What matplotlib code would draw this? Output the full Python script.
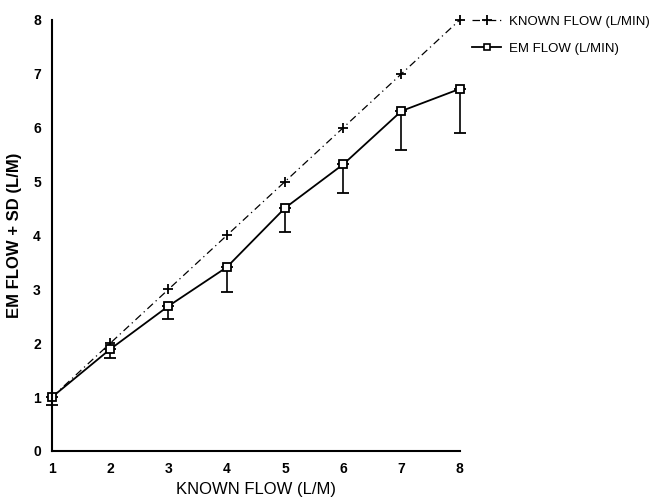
import matplotlib
matplotlib.use("Agg")
import matplotlib.pyplot as plt
from matplotlib.lines import Line2D

known = [1, 2, 3, 4, 5, 6, 7, 8]
known_flow = [1, 2, 3, 4, 5, 6, 7, 8]
em_flow = [1.0, 1.89, 2.69, 3.41, 4.51, 5.32, 6.31, 6.72]
em_sd = [0.15, 0.16, 0.24, 0.46, 0.45, 0.53, 0.73, 0.82]
xticks = [1, 2, 3, 4, 5, 6, 7, 8]
yticks = [0, 1, 2, 3, 4, 5, 6, 7, 8]

plt.rcParams['font.family'] = ['Liberation Sans', 'DejaVu Sans']
fig = plt.figure(figsize=(6.53, 4.99), dpi=100)
ax = fig.add_axes([0.0796, 0.0962, 0.6244, 0.8638])

dash = (0, (6, 3, 1, 3))
l1, = ax.plot(known, known_flow, color='black', lw=0.9, ls=dash,
              marker='+', ms=7, mew=1.3, clip_on=False)
eb = ax.errorbar(known, em_flow, yerr=[em_sd, [0]*len(em_sd)], color='black', lw=1.3,
                 marker='s', ms=5.5, mfc='white', mec='black', mew=1.3,
                 ecolor='black', elinewidth=1.2, capsize=4, capthick=1.2)
for art in [eb[0], *eb[1], *eb[2]]:
    art.set_clip_on(False)

ax.set_xlim(1, 8)
ax.set_ylim(0, 8)
ax.set_xticks(xticks)
ax.set_yticks(yticks)
ax.tick_params(length=0, labelsize=10, pad=8)
for lab in ax.get_xticklabels() + ax.get_yticklabels():
    lab.set_fontweight('bold')
for s in ['top', 'right']:
    ax.spines[s].set_visible(False)
for s in ['left', 'bottom']:
    ax.spines[s].set_linewidth(1.5)

ax.set_xlabel('KNOWN FLOW (L/M)', fontsize=12, labelpad=4)
ax.set_ylabel('EM FLOW + SD (L/M)', fontsize=12, fontweight='bold', labelpad=8)

h1 = Line2D([], [], color='black', lw=0.9, ls=dash, marker='+', ms=7, mew=1.3)
h2 = Line2D([], [], color='black', lw=1.3, marker='s', ms=5, mfc='white', mec='black', mew=1.2)
fig.legend([h1, h2], ['KNOWN FLOW (L/MIN)', 'EM FLOW (L/MIN)'], loc='upper left',
           bbox_to_anchor=(0.705, 0.992), frameon=False, fontsize=9.5,
           handlelength=2.2, handletextpad=0.6, labelspacing=1.1)

fig.savefig('out.png', dpi=100)
